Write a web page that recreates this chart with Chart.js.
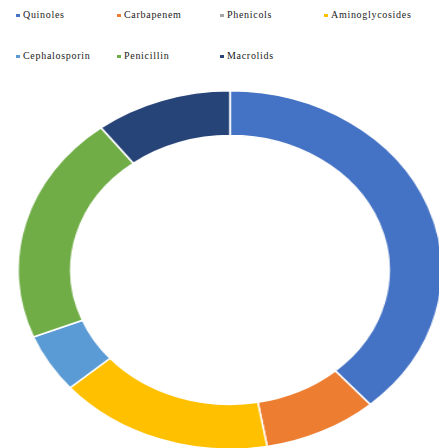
<!DOCTYPE html>
<html>
<head>
<meta charset="utf-8">
<script src="https://cdn.jsdelivr.net/npm/chart.js@4/dist/chart.umd.min.js"></script>
<style>
  html, body { margin: 0; padding: 0; background: #fff; overflow: hidden; }
  body { width: 439px; height: 448px; position: relative; }
  .legend-item {
    position: absolute;
    font-family: "Liberation Serif", "Times New Roman", serif;
    font-size: 10px;
    font-weight: normal;
    letter-spacing: 0.7px;
    color: #1a1a1a;
    white-space: nowrap;
    line-height: 10px;
  }
  .legend-item span.box {
    display: inline-block;
    width: 4px;
    height: 3px;
    margin-right: 3px;
    vertical-align: middle;
  }
  #wrap {
    position: absolute;
    left: 50px;
    top: 90px;
    width: 360px;
    height: 360px;
    transform: scaleX(1.183);
    transform-origin: 180px 180px;
  }
</style>
</head>
<body>
<div id="legend"></div>
<div id="wrap"><canvas id="ringChart"></canvas></div>
<script>
const labels = ["Quinoles", "Carbapenem", "Phenicols", "Aminoglycosides", "Cephalosporin", "Penicillin", "Macrolids"];
const shares = [38.5, 8.7, 0, 16.4, 5.3, 20.7, 10.4];
const colors = ["#4472C4", "#ED7D31", "#A5A5A5", "#FFC000", "#5B9BD5", "#70AD47", "#264478"];

// legend positions (two rows like the original)
const legendPos = [[16, 10], [117, 10], [220, 10], [324, 10], [16, 51], [117, 51], [220, 51]];

const legend = document.getElementById("legend");
labels.forEach((label, i) => {
  const item = document.createElement("div");
  item.className = "legend-item";
  item.style.left = legendPos[i][0] + "px";
  item.style.top = legendPos[i][1] + "px";
  item.innerHTML = `<span class="box" style="background:${colors[i]}"></span>${label}`;
  legend.appendChild(item);
});

const ctx = document.getElementById("ringChart").getContext("2d");
new Chart(ctx, {
  type: "doughnut",
  data: {
    labels: labels,
    datasets: [
      {
        data: shares,
        backgroundColor: colors,
        borderColor: "#ffffff",
        borderWidth: 1.5
      }
    ]
  },
  options: {
    responsive: true,
    maintainAspectRatio: false,
    animation: false,
    cutout: "75%",
    layout: { padding: 0 },
    plugins: {
      legend: { display: false },
      tooltip: { enabled: false }
    }
  }
});
</script>
</body>
</html>
